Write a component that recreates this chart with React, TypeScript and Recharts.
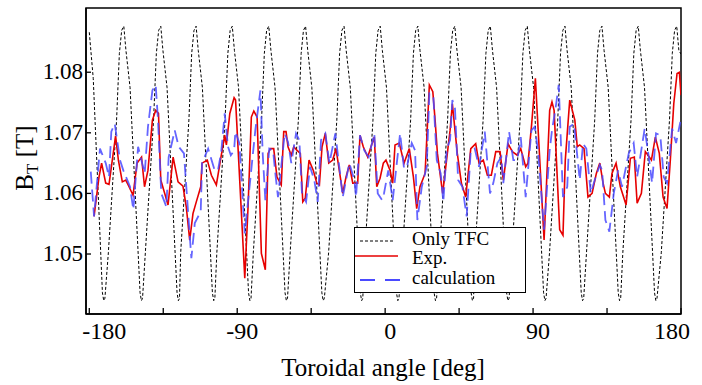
import { Legend, Line, LineChart, ReferenceArea, XAxis, YAxis } from "recharts";

const SERIF = "Liberation Serif, DejaVu Serif, serif";

// Only TFC: field ripple of the 16 coils
const tfcAngle = [
  -180, -177.6, -172.0, -171.2, -170.5, -168.4, -163.4, -161.7, -160.3,
  -159.0, -157.7, -155.2, -149.1, -148.3, -147.6, -145.9, -140.9, -139.2, -137.8,
  -136.5, -135.2, -132.7, -126.6, -125.8, -125.1, -124.4, -119.4, -117.7, -116.3,
  -115.0, -113.7, -111.2, -105.1, -104.3, -103.6, -102.4, -97.4, -95.7, -94.3,
  -93.0, -91.7, -89.2, -83.1, -82.3, -81.6, -80.2, -75.2, -73.5, -72.1,
  -70.8, -69.5, -67.0, -60.9, -60.1, -59.4, -57.8, -52.8, -51.1, -49.7,
  -48.4, -47.1, -44.6, -38.5, -37.7, -37.0, -34.4, -29.4, -27.7, -26.3,
  -25.0, -23.7, -21.2, -15.1, -14.3, -13.6, -12.4, -7.4, -5.7, -4.3,
  -3.0, -1.7, 0.8, 6.9, 7.7, 8.4, 10.5, 15.5, 17.2, 18.6,
  19.9, 21.2, 23.7, 29.8, 30.6, 31.3, 33.0, 38.0, 39.7, 41.1,
  42.4, 43.7, 46.2, 52.3, 53.1, 53.8, 54.6, 59.6, 61.3, 62.7,
  64.0, 65.3, 67.8, 73.9, 74.7, 75.4, 77.1, 82.1, 83.8, 85.2,
  86.5, 87.8, 90.3, 96.4, 97.2, 97.9, 100.0, 105.0, 106.7, 108.1,
  109.4, 110.7, 113.2, 119.3, 120.1, 120.8, 122.5, 127.5, 129.2, 130.6,
  131.9, 133.2, 135.7, 141.8, 142.6, 143.3, 144.6, 149.6, 151.3, 152.7,
  154.0, 155.3, 157.8, 163.9, 164.7, 165.4, 168.0, 173.0, 174.7, 176.1,
  177.4, 178.7, 180,
];
const tfcValue = [
  1.0866, 1.0790, 1.0436, 1.0423, 1.0427, 1.0502, 1.0721, 1.0831, 1.0869,
  1.0876, 1.0836, 1.0775, 1.0436, 1.0423, 1.0427, 1.0502, 1.0721, 1.0831, 1.0869,
  1.0876, 1.0836, 1.0775, 1.0436, 1.0423, 1.0427, 1.0502, 1.0721, 1.0831, 1.0869,
  1.0876, 1.0836, 1.0775, 1.0436, 1.0423, 1.0427, 1.0502, 1.0721, 1.0831, 1.0869,
  1.0876, 1.0836, 1.0775, 1.0436, 1.0423, 1.0427, 1.0502, 1.0721, 1.0831, 1.0869,
  1.0876, 1.0836, 1.0775, 1.0436, 1.0423, 1.0427, 1.0502, 1.0721, 1.0831, 1.0869,
  1.0876, 1.0836, 1.0775, 1.0436, 1.0423, 1.0427, 1.0502, 1.0721, 1.0831, 1.0869,
  1.0876, 1.0836, 1.0775, 1.0436, 1.0423, 1.0427, 1.0502, 1.0721, 1.0831, 1.0869,
  1.0876, 1.0836, 1.0775, 1.0436, 1.0423, 1.0427, 1.0502, 1.0721, 1.0831, 1.0869,
  1.0876, 1.0836, 1.0775, 1.0436, 1.0423, 1.0427, 1.0502, 1.0721, 1.0831, 1.0869,
  1.0876, 1.0836, 1.0775, 1.0436, 1.0423, 1.0427, 1.0502, 1.0721, 1.0831, 1.0869,
  1.0876, 1.0836, 1.0775, 1.0436, 1.0423, 1.0427, 1.0502, 1.0721, 1.0831, 1.0869,
  1.0876, 1.0836, 1.0775, 1.0436, 1.0423, 1.0427, 1.0502, 1.0721, 1.0831, 1.0869,
  1.0876, 1.0836, 1.0775, 1.0436, 1.0423, 1.0427, 1.0502, 1.0721, 1.0831, 1.0869,
  1.0876, 1.0836, 1.0775, 1.0436, 1.0423, 1.0427, 1.0502, 1.0721, 1.0831, 1.0869,
  1.0876, 1.0836, 1.0775, 1.0436, 1.0423, 1.0427, 1.0502, 1.0721, 1.0831, 1.0869,
  1.0876, 1.0836, 1.0830,
];

// Exp.
const expAngle = [
  -177.1, -174.1, -172.5, -170.0, -168.0, -164.0, -162.3, -159.9, -157.8, -155.8,
  -153.4, -150.9, -148.2, -146.4, -144.3, -141.6, -139.6, -137.9, -136.5, -134.1,
  -132.1, -129.0, -126.0, -123.0, -121.0, -118.9, -116.9, -114.9, -112.2, -111.4,
  -108.2, -105.7, -102.7, -99.2, -97.6, -96.6, -94.5, -91.9, -91.0, -85.4,
  -83.4, -81.4, -79.9, -77.9, -75.3, -72.9, -71.2, -69.8, -67.8, -65.8,
  -63.2, -61.7, -60.3, -59.1, -57.1, -55.6, -53.6, -51.6, -50.1, -48.6,
  -46.3, -43.7, -41.6, -40.0, -38.4, -36.4, -34.3, -31.9, -29.9, -27.9,
  -25.8, -23.8, -21.8, -19.7, -16.7, -15.3, -13.3, -10.6, -8.6, -6.6,
  -5.1, -3.1, -1.1, 0.5, 3.0, 4.6, 6.0, 8.6, 11.5, 14.7,
  17.2, 19.2, 21.2, 24.3, 26.9, 29.0, 30.4, 31.8, 35.0, 37.5,
  39.5, 40.9, 42.5, 43.9, 46.4, 49.0, 52.1, 55.1, 57.1, 59.7,
  62.2, 64.6, 67.3, 69.9, 71.9, 74.8, 77.4, 80.4, 82.5, 85.5,
  86.9, 89.1, 91.4, 96.7, 100.1, 101.5, 102.8, 106.2, 108.2, 109.6,
  112.3, 115.4, 116.9, 118.4, 121.0, 123.4, 125.9, 128.5, 130.6, 132.6,
  134.0, 136.4, 138.0, 140.5, 143.1, 146.6, 149.2, 151.6, 153.3, 155.9,
  158.3, 162.0, 164.4, 166.8, 169.1, 171.5, 173.5, 175.6, 177.6, 179.0,
  180.0,
];
const expValue = [
  1.0562, 1.0627, 1.0650, 1.0617, 1.0615, 1.0695, 1.0655, 1.0619, 1.0622, 1.0611,
  1.0597, 1.0650, 1.0660, 1.0611, 1.0638, 1.0721, 1.0737, 1.0732, 1.0622, 1.0600,
  1.0581, 1.0660, 1.0619, 1.0612, 1.0578, 1.0523, 1.0567, 1.0586, 1.0611, 1.0650,
  1.0655, 1.0630, 1.0614, 1.0671, 1.0696, 1.0680, 1.0732, 1.0758, 1.0754, 1.0460,
  1.0578, 1.0726, 1.0736, 1.0726, 1.0501, 1.0474, 1.0666, 1.0674, 1.0674, 1.0627,
  1.0614, 1.0702, 1.0702, 1.0677, 1.0663, 1.0677, 1.0671, 1.0666, 1.0586, 1.0592,
  1.0655, 1.0638, 1.0617, 1.0614, 1.0677, 1.0699, 1.0650, 1.0655, 1.0674, 1.0638,
  1.0600, 1.0627, 1.0647, 1.0617, 1.0617, 1.0696, 1.0677, 1.0660, 1.0677, 1.0693,
  1.0611, 1.0625, 1.0650, 1.0655, 1.0638, 1.0617, 1.0680, 1.0683, 1.0650, 1.0674,
  1.0627, 1.0575, 1.0611, 1.0633, 1.0779, 1.0768, 1.0721, 1.0666, 1.0600, 1.0658,
  1.0704, 1.0748, 1.0704, 1.0666, 1.0617, 1.0594, 1.0674, 1.0682, 1.0650, 1.0655,
  1.0630, 1.0630, 1.0669, 1.0669, 1.0622, 1.0682, 1.0669, 1.0663, 1.0674, 1.0644,
  1.0650, 1.0713, 1.0790, 1.0523, 1.0737, 1.0751, 1.0737, 1.0540, 1.0531, 1.0655,
  1.0754, 1.0721, 1.0677, 1.0680, 1.0674, 1.0594, 1.0600, 1.0633, 1.0650, 1.0617,
  1.0600, 1.0594, 1.0633, 1.0650, 1.0611, 1.0581, 1.0658, 1.0660, 1.0584, 1.0600,
  1.0669, 1.0655, 1.0693, 1.0666, 1.0594, 1.0575, 1.0655, 1.0748, 1.0798, 1.0800,
  1.0762,
];

// calculation
const calcAngle = [
  -179.1, -177.1, -173.5, -170.0, -168.0, -166.6, -164.5, -161.3, -159.3, -155.2,
  -153.2, -150.3, -146.3, -144.3, -141.6, -139.6, -138.2, -136.2, -133.1, -131.7,
  -128.0, -125.6, -122.4, -117.9, -115.8, -112.2, -111.4, -107.7, -103.7, -101.7,
  -99.7, -97.6, -95.6, -93.9, -91.9, -91.1, -88.7, -85.4, -79.0, -75.9,
  -74.5, -72.9, -70.5, -68.2, -66.8, -65.2, -61.1, -59.1, -57.1, -54.2,
  -52.2, -50.6, -48.1, -45.7, -43.1, -41.0, -39.0, -36.4, -33.9, -30.3,
  -27.9, -25.8, -21.8, -18.7, -17.7, -15.3, -12.7, -10.0, -6.6, -4.5,
  -1.9, -0.7, 1.9, 4.6, 9.1, 11.5, 13.5, 16.2, 18.2, 19.6,
  22.3, 25.3, 26.9, 29.3, 31.4, 33.8, 35.4, 37.5, 39.5, 40.9,
  42.5, 44.4, 47.0, 49.6, 52.1, 54.5, 57.1, 60.6, 63.8, 65.8,
  68.3, 70.7, 71.9, 75.4, 78.0, 80.4, 82.5, 85.5, 89.0, 91.0,
  93.0, 96.7, 100.1, 101.5, 103.5, 105.6, 108.2, 110.8, 112.3, 114.9,
  118.4, 120.4, 122.4, 125.1, 127.5, 130.6, 132.0, 134.0, 136.4, 139.1,
  141.7, 144.1, 148.2, 151.2, 153.3, 157.9, 160.4, 162.4, 164.8, 167.4,
  169.5, 171.5, 174.6, 177.0, 179.6,
];
const calcValue = [
  1.0636, 1.0562, 1.0674, 1.0650, 1.0627, 1.0702, 1.0715, 1.0655, 1.0638, 1.0611,
  1.0573, 1.0677, 1.0633, 1.0710, 1.0770, 1.0779, 1.0721, 1.0600, 1.0578, 1.0660,
  1.0704, 1.0677, 1.0666, 1.0493, 1.0551, 1.0570, 1.0650, 1.0674, 1.0638, 1.0638,
  1.0669, 1.0732, 1.0677, 1.0663, 1.0671, 1.0702, 1.0683, 1.0534, 1.0704, 1.0770,
  1.0666, 1.0589, 1.0674, 1.0671, 1.0633, 1.0594, 1.0699, 1.0685, 1.0650, 1.0699,
  1.0688, 1.0600, 1.0586, 1.0644, 1.0622, 1.0586, 1.0688, 1.0699, 1.0650, 1.0699,
  1.0644, 1.0594, 1.0650, 1.0622, 1.0594, 1.0696, 1.0671, 1.0660, 1.0699, 1.0600,
  1.0589, 1.0600, 1.0638, 1.0589, 1.0699, 1.0641, 1.0647, 1.0683, 1.0671, 1.0556,
  1.0611, 1.0644, 1.0765, 1.0762, 1.0655, 1.0633, 1.0586, 1.0674, 1.0688, 1.0754,
  1.0740, 1.0622, 1.0611, 1.0562, 1.0671, 1.0674, 1.0644, 1.0702, 1.0600, 1.0617,
  1.0650, 1.0660, 1.0617, 1.0702, 1.0655, 1.0655, 1.0693, 1.0594, 1.0704, 1.0710,
  1.0671, 1.0540, 1.0671, 1.0704, 1.0737, 1.0779, 1.0594, 1.0611, 1.0710, 1.0715,
  1.0622, 1.0682, 1.0674, 1.0600, 1.0622, 1.0647, 1.0638, 1.0556, 1.0537, 1.0600,
  1.0638, 1.0611, 1.0666, 1.0683, 1.0627, 1.0707, 1.0660, 1.0617, 1.0699, 1.0696,
  1.0627, 1.0617, 1.0707, 1.0683, 1.0718,
];

const xTicks = [-180, -135, -90, -45, 0, 45, 90, 135, 180];
const xTickLabels = ["-180", "", "-90", "", "0", "", "90", "", "180"];
const yTicks = [1.05, 1.06, 1.07, 1.08];
const yTickLabels = ["1.05", "1.06", "1.07", "1.08"];
const seriesNames = ["Only TFC", "Exp.", "calculation"];

const toPoints = (angles: number[], values: number[]) =>
  angles.map((angle, i) => ({ angle, bt: values[i] }));

const tfcData = toPoints(tfcAngle, tfcValue);
const expData = toPoints(expAngle, expValue);
const calcData = toPoints(calcAngle, calcValue);

const RED = "#e60000";
const BLUE = "#4a4aff";
const serifText = { fontFamily: SERIF };

function XTick({ x, y, payload }: any) {
  const i = xTicks.indexOf(payload.value);
  const label = xTickLabels[i];
  let anchor = "middle";
  let tx = x + 5;
  if (i === 0) {
    anchor = "start";
    tx = x - 7;
  } else if (i === xTicks.length - 1) {
    anchor = "end";
    tx = x + 9;
  }
  return (
    <g>
      <line x1={x} y1={y} x2={x} y2={y - 6} stroke="#000" strokeWidth={1.3} />
      {label ? (
        <text x={tx} y={y + 25} textAnchor={anchor} fontSize={24} style={serifText} fill="#000">
          {label}
        </text>
      ) : null}
    </g>
  );
}

function YTick({ x, y, payload }: any) {
  const label = yTickLabels[yTicks.indexOf(payload.value)];
  return (
    <g>
      <line x1={x} y1={y} x2={x + 5} y2={y} stroke="#000" strokeWidth={1.3} />
      <text x={x - 3} y={y + 7} textAnchor="end" fontSize={23} style={serifText} fill="#000">
        {label}
      </text>
    </g>
  );
}

function XTitle() {
  return (
    <text x={383} y={376} textAnchor="middle" fontSize={25} style={serifText} fill="#000">
      Toroidal angle [deg]
    </text>
  );
}

function YTitle() {
  return (
    <text
      x={33}
      y={158}
      transform="rotate(-90 33 158)"
      textAnchor="middle"
      fontSize={25}
      style={serifText}
      fill="#000"
    >
      <tspan>B</tspan>
      <tspan fontSize={17} dy={5}>T</tspan>
      <tspan dy={-5}> [T]</tspan>
    </text>
  );
}

function LegendBox() {
  return (
    <svg width={172} height={66} style={{ display: "block" }}>
      <rect x={0.5} y={0.5} width={171} height={65} fill="#fff" stroke="#000" strokeWidth={1} />
      <line x1={6} y1={14} x2={40} y2={14} stroke="#000" strokeWidth={1} strokeDasharray="3 2" />
      <line x1={1} y1={29} x2={44} y2={29} stroke={RED} strokeWidth={1.6} />
      <line x1={6} y1={53} x2={46} y2={53} stroke={BLUE} strokeWidth={1.8} strokeDasharray="15 10" />
      <text x={58} y={18} fontSize={19} style={serifText} fill="#000">{seriesNames[0]}</text>
      <text x={58} y={37} fontSize={19} style={serifText} fill="#000">{seriesNames[1]}</text>
      <text x={58} y={57} fontSize={19} style={serifText} fill="#000">{seriesNames[2]}</text>
    </svg>
  );
}

export default function App() {
  return (
    <div style={{ position: "absolute", left: 0, top: 0, width: 702, height: 385, background: "#fff" }}>
      <LineChart width={702} height={385} margin={{ top: 8, right: 21, bottom: 11, left: 6 }}>
        <XAxis
          dataKey="angle"
          type="number"
          domain={[-182, 180]}
          allowDataOverflow
          ticks={xTicks}
          interval={0}
          tickSize={0}
          tickMargin={0}
          tick={(p: any) => <XTick {...p} />}
          axisLine={{ stroke: "#000", strokeWidth: 1.5 }}
          height={60}
          label={<XTitle />}
        />
        <YAxis
          type="number"
          domain={[1.0401, 1.0906]}
          allowDataOverflow
          ticks={yTicks}
          interval={0}
          tickSize={0}
          tickMargin={0}
          tick={(p: any) => <YTick {...p} />}
          axisLine={{ stroke: "#000", strokeWidth: 1.5 }}
          width={80}
          label={<YTitle />}
        />
        <ReferenceArea
          x1={-182}
          x2={180}
          y1={1.0401}
          y2={1.0906}
          fill="none"
          stroke="#000"
          strokeWidth={1.5}
          ifOverflow="visible"
        />
        <Line
          data={tfcData}
          dataKey="bt"
          stroke="#000"
          strokeWidth={1}
          strokeDasharray="3 2"
          dot={false}
          isAnimationActive={false}
        />
        <Line data={expData} dataKey="bt" stroke={RED} strokeWidth={1.6} dot={false} isAnimationActive={false} />
        <Line
          data={calcData}
          dataKey="bt"
          stroke={BLUE}
          strokeOpacity={0.85}
          strokeWidth={1.8}
          strokeDasharray="12 6"
          dot={false}
          isAnimationActive={false}
        />
        <Legend
          layout="horizontal"
          verticalAlign="middle"
          align="center"
          wrapperStyle={{ left: 354, top: 227, width: 172, height: 66 }}
          content={() => <LegendBox />}
        />
      </LineChart>
    </div>
  );
}
